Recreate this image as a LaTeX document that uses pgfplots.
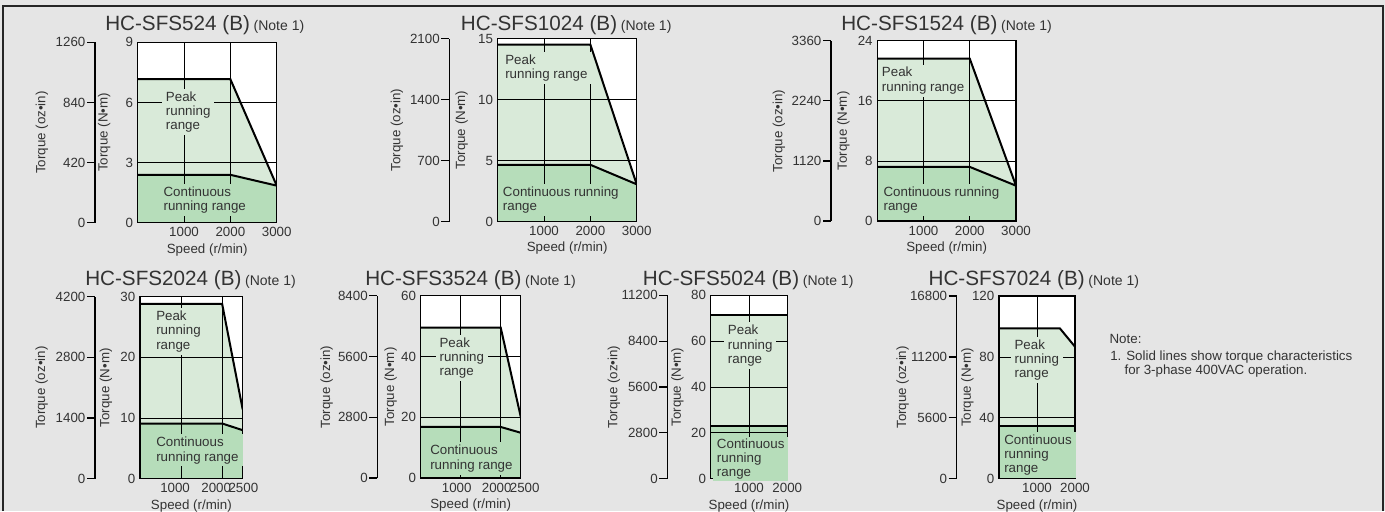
\documentclass[border=0pt]{standalone}
\usepackage{fontspec}
\setmainfont{Liberation Sans}
\usepackage{pgfplots}
\pgfplotsset{compat=1.18}
\definecolor{bg}{HTML}{E5E5E5}
\definecolor{pk}{HTML}{D9EAD9}
\definecolor{ct}{HTML}{B6DDBA}
\definecolor{txt}{HTML}{333333}
\newcommand{\fs}{\fontsize{10}{10.7}\selectfont}
\pgfplotsset{
  /pgf/number format/assume math mode=true,
  /pgf/number format/1000 sep={},
  nm/.style={
    scale only axis, anchor=south west,
    axis on top,
    axis background/.style={fill=white},
    xmin=0, ymin=0,
    grid=major,
    major grid style={black, line width=0.6pt},
    major tick length=0pt,
    axis line style={black, line width=0.9pt},
    ticklabel style={font=\fs, text=txt},
    label style={font=\fs, text=txt},
    xlabel={Speed (r/min)},
    ylabel={Torque (N•m)},
    xlabel style={yshift=2pt},
    scaled ticks=false,
  },
  oz/.style={
    scale only axis, anchor=south west, width=7.5pt,
    xmin=0, xmax=1, ymin=0,
    axis x line=none, axis y line=left,
    y axis line style={-, line width=0.9pt, black},
    tick align=outside, major tick length=6pt,
    ytick style={black, line width=0.9pt},
    ticklabel style={font=\fs, text=txt},
    yticklabel style={inner xsep=1pt},
    label style={font=\fs, text=txt},
    ylabel={Torque (oz•in)},
    scaled ticks=false,
  },
  pkline/.style={black, line width=1.5pt},
}
\tikzset{
  tn/.style={font=\fs, text=txt, align=left, inner xsep=3pt, inner ysep=2pt, anchor=north west, xshift=-3pt, yshift=2pt},
  ttl/.style={anchor=base west, inner sep=0pt, text=txt},
}
\newcommand{\ttltext}[1]{{\fontsize{15.5}{18}\selectfont #1}\ {\fontsize{10.5}{12}\selectfont (Note 1)}}
\begin{document}
\begin{tikzpicture}
\fill[bg] (0pt,0pt) rectangle (1038.75pt,-383.25pt);
\draw[line width=1pt, black!85] (2.25pt,-383.25pt) -- (2.25pt,-4.5pt) -- (1037.25pt,-4.5pt) -- (1037.25pt,-383.25pt);

% ---------------- Chart 1: HC-SFS524
\begin{axis}[oz, at={(71.25pt,-167.03pt)}, height=135.3pt, ymax=1260, ytick={0,420,840,1260},
  ylabel style={at={(axis description cs:-5.3,0.5)}, anchor=center}]
\end{axis}
\begin{axis}[nm, at={(103.28pt,-167.03pt)}, width=104.25pt, height=135.3pt, xmax=3000, ymax=9,
  xtick={1000,2000,3000}, ytick={0,3,6,9},
  ylabel style={at={(axis description cs:-0.242,0.5)}, anchor=center}]
  \addplot[fill=pk, draw=none] coordinates {(0,7.16) (2000,7.16) (3000,1.85)} \closedcycle;
  \addplot[fill=ct, draw=none] coordinates {(0,2.39) (2000,2.39) (3000,1.85)} \closedcycle;
  \addplot[pkline] coordinates {(0,7.16) (2000,7.16) (3000,1.85)};
  \addplot[pkline] coordinates {(0,2.39) (2000,2.39) (3000,1.85)};
  \coordinate (p1) at (axis cs:604,6.55);
  \coordinate (c1) at (axis cs:553,1.8);
\end{axis}
\node[tn, fill=pk] at (p1) {Peak\\running\\range};
\node[tn, fill=ct] at (c1) {Continuous\\running range};
\node[ttl] at (78.75pt,-22.5pt) {\ttltext{HC-SFS524 (B)}};

% ---------------- Chart 2: HC-SFS1024
\begin{axis}[oz, at={(336.98pt,-166.13pt)}, height=137.25pt, ymax=2100, ytick={0,700,1400,2100},
  ylabel style={at={(axis description cs:-5.23,0.5)}, anchor=center}]
\end{axis}
\begin{axis}[nm, at={(373.28pt,-166.13pt)}, width=104.25pt, height=137.25pt, xmax=3000, ymax=15,
  xtick={1000,2000,3000}, ytick={0,5,10,15},
  ylabel style={at={(axis description cs:-0.259,0.5)}, anchor=center}]
  \addplot[fill=pk, draw=none] coordinates {(0,14.5) (2000,14.5) (3000,3.05)} \closedcycle;
  \addplot[fill=ct, draw=none] coordinates {(0,4.65) (2000,4.65) (3000,3.05)} \closedcycle;
  \addplot[pkline] coordinates {(0,14.5) (2000,14.5) (3000,3.05)};
  \addplot[pkline] coordinates {(0,4.65) (2000,4.65) (3000,3.05)};
  \coordinate (p2) at (axis cs:158,13.67);
  \coordinate (c2) at (axis cs:108,2.9);
\end{axis}
\node[tn, fill=pk] at (p2) {Peak\\running range};
\node[tn, fill=ct] at (c2) {Continuous running\\range};
\node[ttl] at (345.53pt,-23.03pt) {\ttltext{HC-SFS1024 (B)}};

% ---------------- Chart 3: HC-SFS1524
\begin{axis}[oz, at={(623.25pt,-165.75pt)}, height=135.23pt, ymax=3360, ytick={0,1120,2240,3360},
  ylabel style={at={(axis description cs:-5.2,0.5)}, anchor=center}]
\end{axis}
\begin{axis}[nm, at={(657.98pt,-165.75pt)}, width=104.03pt, height=135.23pt, xmax=3000, ymax=24,
  xtick={1000,2000,3000}, ytick={0,8,16,24},
  ylabel style={at={(axis description cs:-0.245,0.5)}, anchor=center}]
  \addplot[fill=pk, draw=none] coordinates {(0,21.6) (2000,21.6) (3000,4.7)} \closedcycle;
  \addplot[fill=ct, draw=none] coordinates {(0,7.2) (2000,7.2) (3000,4.7)} \closedcycle;
  \addplot[pkline] coordinates {(0,21.6) (2000,21.6) (3000,4.7)};
  \addplot[pkline] coordinates {(0,7.2) (2000,7.2) (3000,4.7)};
  \coordinate (p3) at (axis cs:95,20.5);
  \coordinate (c3) at (axis cs:130,4.57);
\end{axis}
\node[tn, fill=pk] at (p3) {Peak\\running range};
\node[tn, fill=ct] at (c3) {Continuous running\\range};
\node[ttl] at (630.75pt,-22.5pt) {\ttltext{HC-SFS1524 (B)}};

% ---------------- Chart 4: HC-SFS2024
\begin{axis}[oz, at={(71.25pt,-359.03pt)}, height=136.5pt, ymax=4200, ytick={0,1400,2800,4200},
  ylabel style={at={(axis description cs:-5.33,0.5)}, anchor=center}]
\end{axis}
\begin{axis}[nm, at={(105pt,-359.03pt)}, width=77.03pt, height=136.5pt, xmax=2500, ymax=30,
  xtick={1000,2000}, ytick={0,10,20,30},
  xticklabel style={xshift=-4.5pt, inner xsep=0.5pt},
  extra x ticks={2500}, extra x tick style={grid=none, xticklabel style={xshift=5pt, inner xsep=0.5pt}},
  ylabel style={at={(axis description cs:-0.331,0.5)}, anchor=center}]
  \addplot[fill=pk, draw=none] coordinates {(0,28.8) (2000,28.8) (2500,11.4)} \closedcycle;
  \addplot[fill=ct, draw=none] coordinates {(0,9.1) (2000,9.1) (2500,8.0)} \closedcycle;
  \addplot[pkline] coordinates {(0,28.8) (2000,28.8) (2500,11.4)};
  \addplot[pkline] coordinates {(0,9.1) (2000,9.1) (2500,8.0)};
  \coordinate (p4) at (axis cs:389,27.7);
  \coordinate (c4) at (axis cs:389,6.9);
\end{axis}
\node[tn, fill=pk] at (p4) {Peak\\running\\range};
\node[tn, fill=ct] at (c4) {Continuous\\running range};
\node[ttl] at (63.75pt,-213.75pt) {\ttltext{HC-SFS2024 (B)}};

% ---------------- Chart 5: HC-SFS3524
\begin{axis}[oz, at={(282.98pt,-358.5pt)}, height=136.73pt, ymax=8400, ytick={0,2800,5600,8400},
  ylabel style={at={(axis description cs:-5.06,0.5)}, anchor=center}]
\end{axis}
\begin{axis}[nm, at={(315.53pt,-358.5pt)}, width=75pt, height=136.73pt, xmax=2500, ymax=60,
  xtick={1000,2000}, ytick={0,20,40,60},
  xticklabel style={xshift=-3pt, inner xsep=0.5pt},
  extra x ticks={2500}, extra x tick style={grid=none, xticklabel style={xshift=6pt, inner xsep=0.5pt}},
  ylabel style={at={(axis description cs:-0.30,0.5)}, anchor=center}]
  \addplot[fill=pk, draw=none] coordinates {(0,49.5) (2000,49.5) (2500,20.2)} \closedcycle;
  \addplot[fill=ct, draw=none] coordinates {(0,16.8) (2000,16.8) (2500,14.9)} \closedcycle;
  \addplot[pkline] coordinates {(0,49.5) (2000,49.5) (2500,20.2)};
  \addplot[pkline] coordinates {(0,16.8) (2000,16.8) (2500,14.9)};
  \coordinate (p5) at (axis cs:465,46.3);
  \coordinate (c5) at (axis cs:232,10.9);
\end{axis}
\node[tn, fill=pk] at (p5) {Peak\\running\\range};
\node[tn, fill=ct] at (c5) {Continuous\\running range};
\node[ttl] at (273.75pt,-213.75pt) {\ttltext{HC-SFS3524 (B)}};

% ---------------- Chart 6: HC-SFS5024
\begin{axis}[oz, at={(500.48pt,-359.03pt)}, height=137.55pt, ymax=11200, ytick={0,2800,5600,8400,11200},
  ylabel style={at={(axis description cs:-5.33,0.5)}, anchor=center}]
\end{axis}
\begin{axis}[nm, at={(533.03pt,-359.03pt)}, width=57.45pt, height=137.55pt, xmax=2000, ymax=80,
  xtick={1000,2000}, ytick={0,20,40,60,80},
  ylabel style={at={(axis description cs:-0.436,0.5)}, anchor=center}]
  \addplot[fill=pk, draw=none] coordinates {(0,71.4) (2000,71.4)} \closedcycle;
  \addplot[fill=ct, draw=none] coordinates {(0,22.8) (2000,22.8)} \closedcycle;
  \addplot[pkline] coordinates {(0,71.4) (2000,71.4)};
  \addplot[pkline] coordinates {(0,22.8) (2000,22.8)};
  \coordinate (p6) at (axis cs:444,67.1);
  \coordinate (c6) at (axis cs:157,17.6);
\end{axis}
\node[tn, fill=pk] at (p6) {Peak\\running\\range};
\node[tn, fill=ct, inner ysep=1pt, yshift=-1pt] at (c6) {Continuous\\running\\range};
\node[ttl] at (482.03pt,-213.75pt) {\ttltext{HC-SFS5024 (B)}};

% ---------------- Chart 7: HC-SFS7024
\begin{axis}[oz, at={(717.53pt,-359.03pt)}, height=137.03pt, ymax=16800, ytick={0,5600,11200,16800},
  ylabel style={at={(axis description cs:-5.4,0.5)}, anchor=center}]
\end{axis}
\begin{axis}[nm, at={(749.25pt,-359.03pt)}, width=57pt, height=137.03pt, xmax=2000, ymax=120,
  xtick={1000,2000}, ytick={0,40,80,120},
  ylabel style={at={(axis description cs:-0.417,0.5)}, anchor=center}]
  \addplot[fill=pk, draw=none] coordinates {(0,98.8) (1600,98.8) (2000,86.7)} \closedcycle;
  \addplot[fill=ct, draw=none] coordinates {(0,34.5) (2000,34.5)} \closedcycle;
  \addplot[pkline] coordinates {(0,98.8) (1600,98.8) (2000,86.7)};
  \addplot[pkline] coordinates {(0,34.5) (2000,34.5)};
  \coordinate (p7) at (axis cs:403,91.6);
  \coordinate (c7) at (axis cs:132,29.2);
\end{axis}
\node[tn, fill=pk] at (p7) {Peak\\running\\range};
\node[tn, fill=ct] at (c7) {Continuous\\running\\range};
\node[ttl] at (696.23pt,-213.75pt) {\ttltext{HC-SFS7024 (B)}};

% ---------------- Note
\node[anchor=base west, inner sep=0pt, text=txt, font=\fs] at (832pt,-257.5pt) {Note:};
\node[anchor=base west, inner sep=0pt, text=txt, font=\fs] at (832.5pt,-270pt) {1. Solid lines show torque characteristics};
\node[anchor=base west, inner sep=0pt, text=txt, font=\fs] at (843.2pt,-280.7pt) {for 3-phase 400VAC operation.};

\pgfresetboundingbox
\path[use as bounding box] (0pt,0pt) rectangle (1038.75pt,-383.25pt);
\end{tikzpicture}
\end{document}
